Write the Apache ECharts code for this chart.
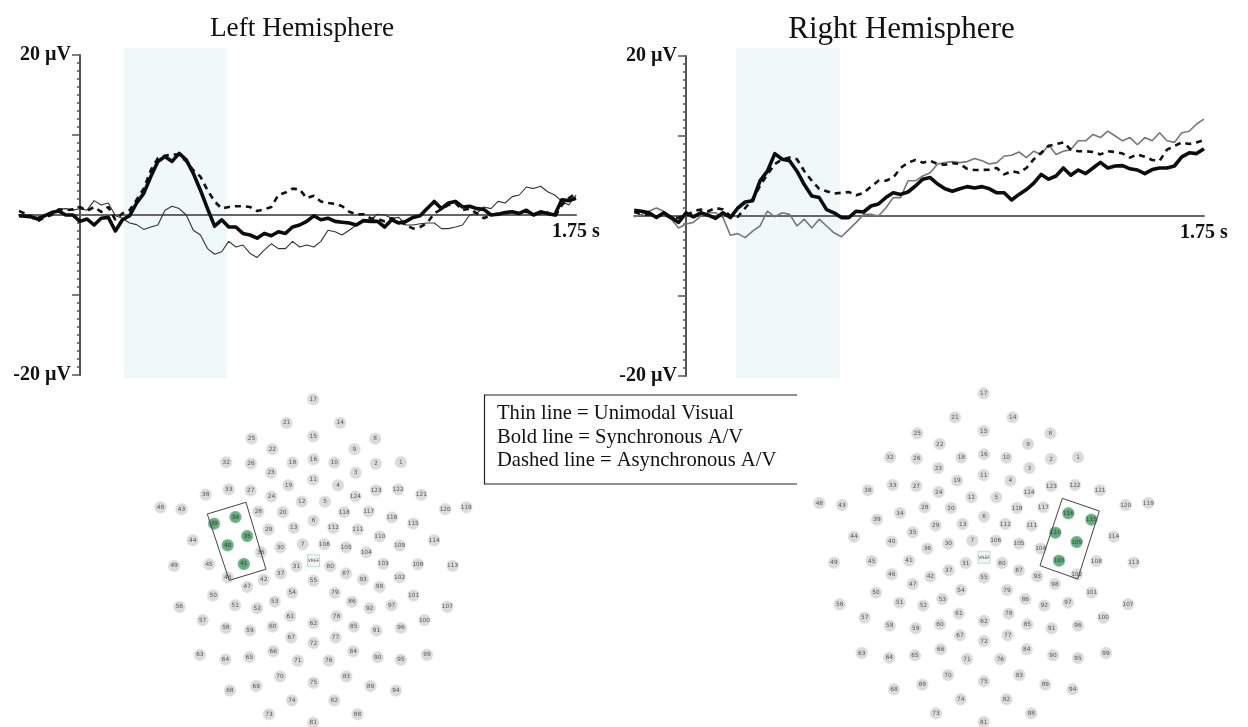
<!DOCTYPE html>
<html><head><meta charset="utf-8">
<style>html,body{margin:0;padding:0;background:#fff}#c{width:1248px;height:727px}</style>
<script src="https://cdn.jsdelivr.net/npm/echarts@6/dist/echarts.min.js"></script>
</head><body><div id="c"></div>
<script>
const leftTimes=[-0.215,-0.175,-0.15,-0.125,-0.1,-0.075,-0.05,-0.025,0,0.025,0.05,0.075,0.1,0.125,0.15,0.175,0.2,0.225,0.25,0.275,0.3,0.325,0.35,0.375,0.4,0.425,0.45,0.475,0.5,0.525,0.55,0.575,0.6,0.625,0.65,0.675,0.7,0.725,0.75,0.775,0.8,0.825,0.85,0.875,0.9,0.925,0.95,0.975,1,1.025,1.05,1.075,1.1,1.125,1.15,1.175,1.2,1.225,1.25,1.275,1.3,1.325,1.35,1.375,1.4,1.425,1.45,1.475,1.5,1.525,1.55,1.575,1.6,1.625,1.65,1.675,1.7,1.725,1.75];
const leftBold=[-0.1,-0.2,-0.5,-0.1,0.3,0.5,0,0,-0.8,-0.5,-1.25,-0.4,-0.3,-2,-0.6,-0.1,1.5,2.7,4.8,6.7,7.3,6.7,7.7,6.9,5.2,3.1,0.8,-1.4,-0.6,-1.5,-1.5,-2.3,-2.5,-2.9,-2.3,-2.6,-2.1,-2.3,-1.5,-1.25,-0.8,-0.1,-0.6,-0.4,-0.8,-0.9,-1,-1.25,-0.7,-0.8,-0.8,-1.5,-0.6,-1,-0.8,-0.3,-0.1,0.8,1.7,0.8,1.5,1.7,1,1.1,0.8,0.7,0,0.1,0.3,0.4,0.2,0.6,0,0.4,0.2,0,1.9,1.8,2.1];
const leftDashed=[0.5,-0.1,-0.8,-0.3,0,0.7,0.6,0.7,1,0.5,1,0.4,1,-0.6,0.2,0.6,1.9,3.3,5.6,7.1,7.4,7.6,7.5,6.7,5.6,4.8,3.1,1.7,0.8,1,1.1,1.1,1,0.5,0.7,1,2.5,2.8,3.3,3.2,2.1,2.4,1.7,1.5,1.4,1.1,0.4,0.1,0.1,-0.4,-0.5,-0.8,-0.4,-0.8,-1.25,-1.7,-1.5,-1,0.2,0.7,1.25,1.5,0.6,0.8,0.2,-0.4,0,0.2,0.3,0.4,0.2,0.4,0.2,0.2,0.3,-0.3,1.25,2.1,2.7];
const leftThin=[-0.1,-0.1,-0.3,-0.1,0.1,0.7,0.8,0.6,0.8,0.6,1.8,1.25,1.5,-0.1,-0.4,-1,-1.2,-1.8,-1.5,-1.25,0.6,1.1,0.8,0,-1.9,-2.5,-4.2,-4.9,-4.6,-3.3,-4,-3.75,-4.8,-5.3,-4.4,-3.6,-4.2,-4.2,-3.3,-4,-3.75,-4,-3.3,-1.9,-2.1,-2.5,-1.9,-1.25,-0.6,-0.6,0.1,0,-0.4,-0.3,-1.25,-1.25,-1.1,-1,-1,-1.7,-1.7,-1.5,-1.25,0,0.2,1,0.8,1.7,1.5,2.3,2.5,3.5,3.3,3.6,2.9,2.5,1.7,1.25,2.5];

const rightTimes=[-0.175,-0.15,-0.125,-0.1,-0.075,-0.05,-0.025,0,0.025,0.05,0.075,0.1,0.125,0.15,0.175,0.2,0.225,0.25,0.275,0.3,0.325,0.35,0.375,0.4,0.425,0.45,0.475,0.5,0.525,0.55,0.575,0.6,0.625,0.65,0.675,0.7,0.725,0.75,0.775,0.8,0.825,0.85,0.875,0.9,0.925,0.95,0.975,1,1.025,1.05,1.075,1.1,1.125,1.15,1.175,1.2,1.225,1.25,1.275,1.3,1.325,1.35,1.375,1.4,1.425,1.45,1.475,1.5,1.525,1.55,1.575,1.6,1.625,1.65,1.675,1.7,1.725,1.75];
const rightBold=[0.7,0.6,0.4,-0.2,0.4,-0.2,-0.8,0.4,-0.1,0.4,0.1,-0.3,0.4,-0.2,1,1.75,1.9,4.4,5.6,7.8,7.1,6.9,5.6,3.9,2.5,2.3,0.8,0.4,-0.2,-0.2,0.6,0.5,1.25,1.5,2.3,2.9,2.7,3,3.75,4.6,4.8,4,3.4,3.1,3.4,3.67,3.5,3.67,3.4,2.9,2.9,2,2.7,3.3,4.1,5.2,4.6,5,6,5.1,5.75,5.3,6,6.7,6,6.25,6.3,5.9,5.75,5.3,5.8,6,6,6.25,7.4,7.9,7.8,8.4];
const rightDashed=[0.5,0.2,0.2,-0.1,0.2,-0.3,-0.2,0,0.6,0.8,0.6,1,0.8,0,-0.1,1,2.1,3.75,5.2,6.5,7.1,7.3,7.1,5.6,4.4,3.4,3.1,2.8,2.9,3,2.6,2.9,3.67,4.4,4.4,4.8,6,6.67,7,6.67,6.9,6.5,6.4,6.6,6.5,5.9,5.75,5.75,5.8,6,5.2,5.6,5.4,6,7.1,7.9,8.75,9,9.2,8.3,8.1,8.1,8,7.7,8.1,8,7.8,7.3,7.7,7.4,7,6.9,8.3,8.75,9.2,9,9.2,9.5];
const rightThin=[-0.1,0.2,0.6,1,0.6,-0.4,-1.5,-1,-0.8,0,0.4,0.4,-0.2,-2.4,-2.2,-2.7,-1.9,-1.25,0.6,-0.1,0.4,0.2,-1.25,-0.4,-1.5,-0.4,-1.25,-2.1,-2.6,-1.7,-0.8,0.2,0.2,0,1,2.3,2.3,4.4,4.4,5,5.4,6.5,6.67,6.8,6.67,6.8,7.2,6.9,6.5,6.67,7.5,7.6,8,7.3,8.1,7.7,8.9,7.7,8.1,8.3,9.4,9.4,10.2,9.8,10.6,10,9.4,9.8,8.9,9.8,9.4,10.4,9.4,9.2,10.4,10.6,11.5,12.1];

const electrodeLabels=['17','21','14','25','15','8','22','9','32','26','18','16','10','2','1','23','3','11','19','4','38','33','27','24','124','123','122','121','12','5','48','43','120','119','28','20','118','117','116','115','34','39','6','29','13','112','111','110','35','44','114','40','30','7','106','105','109','36','104','49','45','41','31','80','103','108','113','46','37','42','47','87','93','98','102','55','54','79','50','51','52','53','86','92','97','101','56','107','57','58','59','60','61','62','78','85','91','96','100','67','72','77','63','64','65','66','71','76','84','90','95','99','70','75','83','69','89','68','94','74','82','73','88','81'];
const electrodeX=[521,435,608,322,521,721,389,654,240,320,454,522,589,723,804,385,658,521,441,601,174,248,319,386,657,724,795,870,484,559,28,96,947,1015,344,423,621,700,775,844,270,201,522,377,458,586,665,736,308,132,911,245,415,487,557,627,800,352,692,72,185,297,467,576,747,859,971,245,416,361,308,627,682,735,800,522,453,591,198,269,340,397,646,703,774,845,89,954,164,239,317,390,447,522,596,652,725,804,880,450,522,593,155,238,315,392,471,571,650,729,804,888,414,522,628,337,706,252,788,452,589,378,664,521];
const electrodeY=[25,97,97,145,138,145,177,177,217,221,218,208,218,222,217,249,249,270,287,287,316,300,303,321,321,303,300,316,337,337,354,360,360,354,367,369,369,367,385,404,384,404,395,422,417,417,422,443,442,455,455,470,476,467,467,476,471,491,491,533,528,527,534,534,527,528,533,568,556,575,597,556,574,597,568,578,615,615,623,653,662,642,642,662,653,623,658,658,698,722,730,718,686,708,686,718,730,722,698,751,768,751,804,818,811,793,822,822,793,811,819,804,870,889,870,899,899,913,913,943,943,985,985,1011];
const vrefPoint=[522,517];
const leftActive=['34','39','35','40','41'];
const rightActive=['116','115','110','109','103'];
const leftBoxX=[179,304,368.5,250,179], leftBoxY=[374.7,339,543,577,374.7];
const rightBoxX=[757,868,803,690,757], rightBoxY=[340,378,582,542,340];
const leftWindow=[0.155,0.519], rightWindow=[0.169,0.52];
const legendLines=['Thin line = Unimodal Visual','Bold line = Synchronous A/V','Dashed line = Asynchronous A/V'];
const yTicks={20:'20 µV','-20':'-20 µV'};

const serif="'Liberation Serif','Times New Roman',serif";
const zip=(a,b)=>a.map((v,i)=>[v,b[i]]);
const grad=(c0,c1,c2)=>({type:'radial',x:.5,y:.5,r:.5,colorStops:[{offset:0,color:c0},{offset:.7,color:c1},{offset:1,color:c2}]});
const grayFill=grad('#d6d6d6','#d0d0d0','#e0e0e0');
const greenFill=grad('#2f8a50','#3f9a60','#7ab58f');

const grids=[],xAxes=[],yAxes=[],series=[];
function addPanel(g,times,thin,bold,dashed,thinStyle,win,yOff,xOff){
  // hidden band grid: taller than the plot, so the stimulus window overshoots the axis ends
  let i=grids.length;
  grids.push({left:g.left,width:g.width,top:g.bandTop,height:g.bandHeight,outerBoundsMode:'none'});
  xAxes.push({type:'value',gridIndex:i,min:times[0],max:1.75,show:false});
  yAxes.push({type:'value',gridIndex:i,min:0,max:1,show:false});
  series.push({type:'line',xAxisIndex:i,yAxisIndex:i,name:'Stimulus window',symbol:'none',data:[],z:1,
    markArea:{silent:true,z:1,itemStyle:{color:'#f0f8f8'},data:[[{coord:[win[0],0]},{coord:[win[1],1]}]]}});
  i=grids.length;
  grids.push({left:g.left,width:g.width,top:g.top,height:g.height,outerBoundsMode:'none',containLabel:false});
  xAxes.push({type:'value',gridIndex:i,min:times[0],max:1.75,position:'bottom',offset:xOff,z:5,splitLine:{show:false},
    axisLine:{onZero:false,lineStyle:{color:'#666',width:2}},axisTick:{show:false},
    axisLabel:{customValues:[1.75],formatter:()=> '1.75 s',margin:7,color:'#111',fontFamily:serif,fontWeight:'bold',fontSize:20,hideOverlap:false}});
  yAxes.push({type:'value',gridIndex:i,min:-20,max:20,interval:10,position:'left',offset:yOff,z:5,splitLine:{show:false},
    axisLine:{onZero:false,lineStyle:{color:'#555',width:2}},
    axisTick:{length:8,lineStyle:{color:'#555',width:1.5}},
    minorTick:{show:true,splitNumber:10,length:3,lineStyle:{color:'#555',width:1.5}},
    axisLabel:{formatter:v=>yTicks[v]||'',margin:9,color:'#111',fontFamily:serif,fontWeight:'bold',fontSize:20}});
  const common={type:'line',xAxisIndex:i,yAxisIndex:i,showSymbol:false,symbol:'none',smooth:false,clip:false};
  series.push({...common,name:'Thin line',data:zip(times,thin),lineStyle:thinStyle,z:12});
  series.push({...common,name:'Dashed line',data:zip(times,dashed),lineStyle:{color:'#111',width:2.6,type:[6,5]},z:13});
  series.push({...common,name:'Bold line',data:zip(times,bold),lineStyle:{color:'#0c0c0c',width:3.6,join:'round'},z:14});
}
function addMap(g,active,boxX,boxY){
  const i=grids.length;
  grids.push({...g,outerBoundsMode:'none'});
  xAxes.push({type:'value',gridIndex:i,min:0,max:1020,show:false});
  yAxes.push({type:'value',gridIndex:i,min:0,max:1020,inverse:true,show:false});
  const data=electrodeLabels.map((n,k)=>({name:n,value:[electrodeX[k],electrodeY[k]],
    itemStyle:{color:active.includes(n)?greenFill:grayFill}}));
  series.push({type:'scatter',xAxisIndex:i,yAxisIndex:i,symbolSize:12.5,data,z:3,
    label:{show:true,position:'inside',formatter:p=>p.name,fontSize:5.8,color:'#333',fontFamily:"'DejaVu Sans',sans-serif"}});
  series.push({type:'scatter',xAxisIndex:i,yAxisIndex:i,symbol:'rect',symbolSize:12,z:3,
    data:[{name:'VREF',value:vrefPoint}],
    itemStyle:{color:'#f0f0f0',borderColor:'#9fdbe3',borderWidth:1},
    label:{show:true,position:'inside',formatter:'VREF',fontSize:4.5,color:'#222',fontFamily:"'DejaVu Sans',sans-serif"}});
  series.push({type:'line',xAxisIndex:i,yAxisIndex:i,symbol:'none',data:zip(boxX,boxY),
    lineStyle:{color:'#444',width:1},z:4,clip:false});
}
addPanel({left:19,top:55,width:557,height:320,bandTop:48,bandHeight:330},leftTimes,leftThin,leftBold,leftDashed,{color:'#333',width:1.1},leftWindow,-61,-160);
addPanel({left:634.2,top:56,width:569.8,height:320,bandTop:48,bandHeight:330},rightTimes,rightThin,rightBold,rightDashed,{color:'#777',width:1.6},rightWindow,-51.8,-160);
addMap({left:151.8,top:391.1,width:316,height:334.6},leftActive,leftBoxX,leftBoxY);
addMap({left:810,top:385,width:340,height:340},rightActive,rightBoxX,rightBoxY);

const titleStyle=s=>({fontFamily:serif,fontWeight:'normal',fontSize:s,color:'#111'});
const option={
  animation:false,backgroundColor:'#fff',
  title:[
    {text:'Left Hemisphere',left:297,top:10,textAlign:'center',textStyle:titleStyle(27.3)},
    {text:'Right Hemisphere',left:896.5,top:9,textAlign:'center',textStyle:titleStyle(31)}
  ],
  grid:grids,xAxis:xAxes,yAxis:yAxes,series,
  graphic:[
    {type:'polyline',shape:{points:[[797,395],[484.5,395],[484.5,484],[797,484]]},style:{fill:null,stroke:'#222',lineWidth:1.2}},
    ...legendLines.map((t,k)=>({type:'text',x:497,y:403.5+k*23.5,style:{text:t,fontFamily:serif,fontSize:20.6,fill:'#111'}}))
  ]
};
echarts.init(document.getElementById('c')).setOption(option);
</script></body></html>
